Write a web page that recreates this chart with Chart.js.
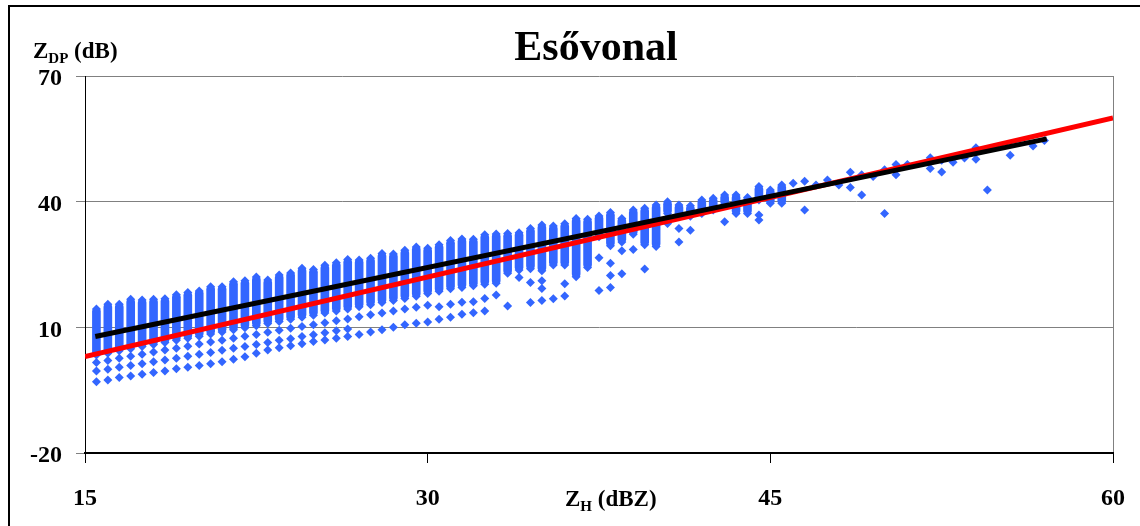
<!DOCTYPE html>
<html>
<head>
<meta charset="utf-8">
<script src="https://cdn.jsdelivr.net/npm/chart.js@4.4.1/dist/chart.umd.min.js"></script>
<style>
html, body { margin: 0; padding: 0; background: #fff; overflow: hidden; }
#frame { position: absolute; left: 8px; top: 5px; width: 1200px; height: 600px; border: 2px solid #000; box-sizing: border-box; }
#wrap { position: absolute; left: 0; top: 0; width: 1140px; height: 526px; }
</style>
</head>
<body>
<div id="frame"></div>
<div id="wrap"><canvas id="chart" width="1140" height="526"></canvas></div>
<script>
const chartTitle = 'Esővonal';
const xTicks = [15, 30, 45, 60];
const yTicks = [-20, 10, 40, 70];

// dense columns of Z_DP values at each Z_H bin
const colX = [15.5, 16, 16.5, 17, 17.5, 18, 18.5, 19, 19.5, 20, 20.5, 21, 21.5, 22, 22.5, 23, 23.5, 24, 24.5, 25,
  25.5, 26, 26.5, 27, 27.5, 28, 28.5, 29, 29.5, 30, 30.5, 31, 31.5, 32, 32.5, 33, 33.5, 34, 34.5, 35,
  35.5, 36, 36.5, 37, 37.5, 38, 38.5, 39, 39.5, 40, 40.5, 41, 41.5, 42, 42.5, 43, 43.5, 44, 44.5, 45, 45.5];
const colTop = [14.4, 15.5, 15.5, 16.7, 16.5, 16.7, 16.8, 17.8, 18.3, 18.7, 19.7, 19.7, 20.9, 21.1, 22.0, 21.3, 22.5, 23.0, 24.1, 23.8,
  24.8, 25.4, 26.2, 26.1, 26.5, 27.6, 27.5, 28.4, 29.2, 28.9, 29.7, 30.7, 31.1, 31.0, 32.1, 32.3, 32.4, 32.6, 33.6, 34.4,
  34.2, 34.7, 36.0, 35.8, 36.6, 37.4, 36.0, 38.0, 38.4, 39.2, 40.0, 39.2, 39.0, 40.4, 40.8, 41.6, 41.6, 41.0, 43.6, 42.8, 44.0];
const colBot = [3.4, 3.8, 4.4, 4.9, 5.4, 5.9, 6.4, 6.9, 7.4, 7.9, 8.4, 8.9, 9.4, 9.9, 10.4, 10.9, 11.4, 11.9, 12.4, 12.9,
  13.4, 13.9, 14.4, 14.9, 15.4, 15.9, 16.4, 16.9, 17.4, 18.1, 18.6, 19.2, 19.5, 19.9, 20.3, 20.5, 22.9, 23.7, 24.0, 23.5,
  24.9, 24.9, 22.1, 24.3, 31.6, 29.5, 30.4, 32.2, 29.7, 29.3, 37.2, 36.4, 36.5, 37.2, 38.0, 39.4, 37.2, 37.2, 40.4, 39.6, 39.6];
// loose points under each column (null = none)
const rowA = [1.6, 2.1, 2.6, 3.1, 3.6, 4.1, 4.6, 5.0, 5.5, 6.0, 6.5, 6.9, 7.4, 7.9, 8.3, 8.8, 9.3, 9.8, 10.2, 10.6,
  11.1, 11.6, 12.0, 12.5, 13.0, 13.4, 13.9, 14.4, 14.8, 15.3, 14.9, 15.5, 16.0, 16.1, 16.9, 17.7, null, 21.9, 20.7, 21.1,
  null, 20.4, null, null, 26.6, null, null, null, null, null, null, null, null, null, null, null, null, null, null, null, null];
const rowB = [-0.4, 0.0, 0.5, 0.9, 1.3, 1.8, 2.2, 2.6, 3.1, 3.6, 4.0, 4.5, 5.0, 5.4, 5.9, 6.4, 6.9, 7.3, 7.8, 8.2,
  8.7, 9.2, 9.6, null, null, null, null, null, null, null, null, null, null, null, null, null, null, null, null, 19.3,
  null, null, null, null, null, null, null, null, null, null, null, null, null, null, null, null, null, null, null, null, null];
const rowLow = [-3.0, -2.6, -2.0, -1.6, -1.2, -0.8, -0.4, 0.1, 0.5, 0.9, 1.3, 1.8, 2.4, 3.0, 3.8, 4.6, 5.1, 5.6, 6.1, 6.6,
  7.0, 7.4, 7.8, 8.3, 8.9, 9.4, 10.0, 10.6, 11.0, 11.3, 11.9, 12.4, 13.1, 13.5, 13.9, null, 15.1, null, 15.9, 16.4,
  16.8, 17.5, null, null, 18.8, null, null, null, null, null, null, null, null, null, null, null, null, null, null, null, null];
// scattered points
const outX = [38, 38, 38, 38.5, 38.5, 39, 39.5, 40.5, 41, 41, 41.5, 43, 44.5, 44.5, 46, 46.5, 46.5, 47, 47.5, 48,
  48.5, 48.5, 49, 49, 49.5, 50, 50, 50.5, 50.5, 51, 52, 52, 52.5, 52.5, 53, 53.5, 54, 54, 54.5, 55.5, 56.5, 57];
const outY = [25.3, 22.4, 19.5, 28.3, 22.8, 28.6, 23.9, 34.8, 33.6, 30.4, 33.2, 35.2, 36.8, 35.6, 44.4, 44.9, 38.0, 44.0, 45.2, 44.0,
  47.0, 43.4, 46.4, 41.6, 46.0, 47.6, 37.2, 48.9, 46.4, 48.9, 50.5, 47.9, 49.9, 47.1, 49.4, 50.4, 52.9, 50.1, 42.8, 51.1, 53.3, 54.6];
// fitted line (black) and reference line (red)
const fitX = [15.45, 57.1];
const fitY = [7.8, 55.0];
const refX = [15, 60];
const refY = [3.0, 60.0];

const SERIF = '"Liberation Serif", "Times New Roman", serif';
const BLUE = '#3366FF';

const bars = colX.map((x, i) => ({ x: x, y: [colBot[i], colTop[i]] }));
const points = [];
colX.forEach((x, i) => {
  [colTop[i], colBot[i], rowA[i], rowB[i], rowLow[i]].forEach(v => {
    if (v !== null) points.push({ x: x, y: v });
  });
});
outX.forEach((x, i) => points.push({ x: x, y: outY[i] }));

function drawSub(ctx, main, sub, rest, x, y) {
  ctx.textAlign = 'left';
  ctx.font = 'bold 23px ' + SERIF;
  ctx.fillText(main, x, y);
  x += ctx.measureText(main).width;
  ctx.font = 'bold 15px ' + SERIF;
  ctx.fillText(sub, x, y + 5);
  x += ctx.measureText(sub).width;
  ctx.font = 'bold 23px ' + SERIF;
  ctx.fillText(rest, x, y);
}

const textPlugin = {
  id: 'texts',
  afterDraw(chart) {
    const ctx = chart.ctx;
    ctx.save();
    ctx.fillStyle = '#000';
    ctx.textBaseline = 'alphabetic';
    ctx.textAlign = 'center';
    ctx.font = 'bold 42px ' + SERIF;
    ctx.fillText(chartTitle, 596, 60);
    drawSub(ctx, 'Z', 'DP', ' (dB)', 33, 58);
    drawSub(ctx, 'Z', 'H', ' (dBZ)', 565, 506);
    ctx.restore();
  }
};

new Chart(document.getElementById('chart').getContext('2d'), {
  type: 'scatter',
  data: {
    datasets: [
      {
        type: 'line',
        data: fitX.map((x, i) => ({ x: x, y: fitY[i] })),
        borderColor: '#000',
        borderWidth: 5,
        pointRadius: 0,
        fill: false
      },
      {
        type: 'line',
        data: refX.map((x, i) => ({ x: x, y: refY[i] })),
        borderColor: '#FF0000',
        borderWidth: 5,
        pointRadius: 0,
        fill: false
      },
      {
        type: 'scatter',
        data: points,
        pointStyle: 'rectRot',
        pointRadius: 4.5,
        pointBorderWidth: 0,
        backgroundColor: BLUE,
        borderColor: BLUE
      },
      {
        type: 'bar',
        data: bars,
        backgroundColor: BLUE,
        borderWidth: 0,
        barThickness: 8,
        borderRadius: 3,
        borderSkipped: false
      }
    ]
  },
  options: {
    responsive: false,
    animation: false,
    layout: { padding: { left: 0, top: 76, right: 27, bottom: 0 } },
    plugins: {
      legend: { display: false },
      title: { display: false },
      tooltip: { enabled: false }
    },
    scales: {
      x: {
        type: 'linear',
        min: 15,
        max: 60,
        offset: false,
        afterBuildTicks: s => { s.ticks = xTicks.map(v => ({ value: v })); },
        afterFit: s => { s.height = 73; s.paddingLeft = 0; s.paddingRight = 0; },
        grid: {
          offset: false,
          color: c => (c.tick && c.tick.value === 60) ? '#808080' : 'rgba(0,0,0,0)',
          tickColor: '#000',
          tickLength: 10,
          lineWidth: 1
        },
        border: { color: '#000', width: 2 },
        ticks: {
          color: '#000',
          padding: 21,
          maxRotation: 0,
          font: { family: SERIF, size: 24, weight: 'bold' }
        }
      },
      y: {
        type: 'linear',
        min: -20,
        max: 70,
        afterBuildTicks: s => { s.ticks = yTicks.map(v => ({ value: v })); },
        afterFit: s => { s.width = 85; s.paddingTop = 0; s.paddingBottom = 0; },
        grid: {
          color: '#808080',
          tickColor: '#808080',
          tickLength: 9,
          lineWidth: 1
        },
        border: { color: '#000', width: 1 },
        ticks: {
          color: '#000',
          padding: 14,
          labelOffset: 3,
          font: { family: SERIF, size: 24, weight: 'bold' }
        }
      }
    }
  },
  plugins: [textPlugin]
});
</script>
</body>
</html>
